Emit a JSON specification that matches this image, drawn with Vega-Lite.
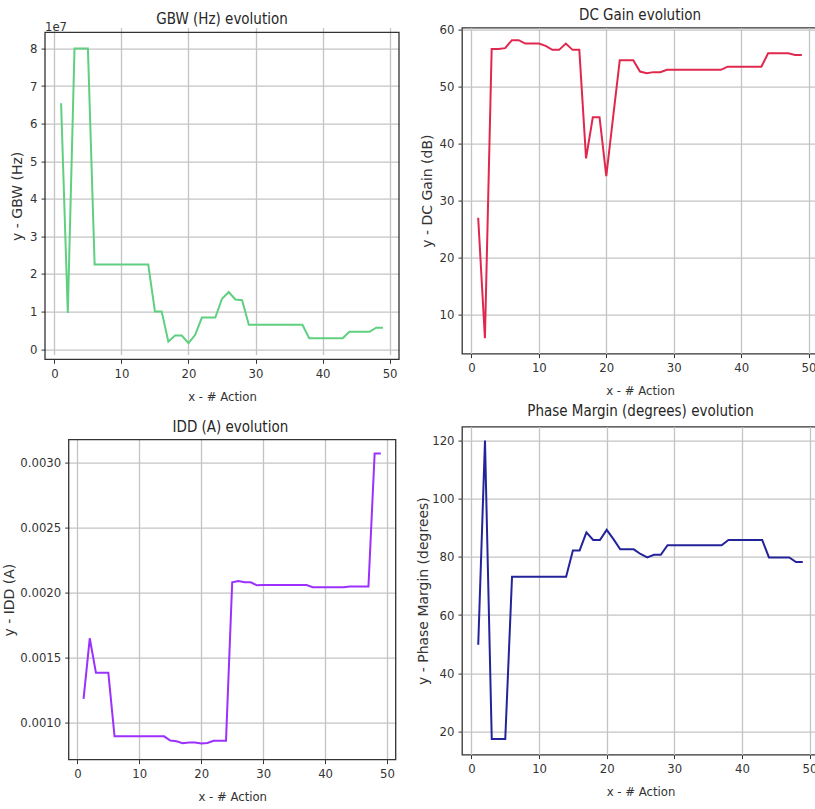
{
  "$schema": "https://vega.github.io/schema/vega-lite/v6.json",
  "background": "white",
  "padding": {"left": 2, "top": 7.6, "right": 0, "bottom": 0},
  "datasets": {
    "runs": [
      {"action": 1, "gbw": 65400000, "gain": 27.0, "idd": 0.001185, "pm": 49.75},
      {"action": 2, "gbw": 9600000, "gain": 5.9, "idd": 0.001651, "pm": 120.0},
      {"action": 3, "gbw": 80000000, "gain": 56.55, "idd": 0.001385, "pm": 17.4},
      {"action": 4, "gbw": 80000000, "gain": 56.55, "idd": 0.001385, "pm": 17.4},
      {"action": 5, "gbw": 80000000, "gain": 56.7, "idd": 0.001385, "pm": 17.4},
      {"action": 6, "gbw": 22500000, "gain": 58.1, "idd": 0.000897, "pm": 73.2},
      {"action": 7, "gbw": 22500000, "gain": 58.1, "idd": 0.000897, "pm": 73.2},
      {"action": 8, "gbw": 22500000, "gain": 57.5, "idd": 0.000897, "pm": 73.2},
      {"action": 9, "gbw": 22500000, "gain": 57.5, "idd": 0.000897, "pm": 73.2},
      {"action": 10, "gbw": 22500000, "gain": 57.5, "idd": 0.000897, "pm": 73.2},
      {"action": 11, "gbw": 22500000, "gain": 57.1, "idd": 0.000897, "pm": 73.2},
      {"action": 12, "gbw": 22500000, "gain": 56.4, "idd": 0.000897, "pm": 73.2},
      {"action": 13, "gbw": 22500000, "gain": 56.4, "idd": 0.000897, "pm": 73.2},
      {"action": 14, "gbw": 22500000, "gain": 57.5, "idd": 0.000897, "pm": 73.2},
      {"action": 15, "gbw": 10000000, "gain": 56.4, "idd": 0.000864, "pm": 82.2},
      {"action": 16, "gbw": 10000000, "gain": 56.4, "idd": 0.000859, "pm": 82.2},
      {"action": 17, "gbw": 2000000, "gain": 37.4, "idd": 0.000844, "pm": 88.4},
      {"action": 18, "gbw": 3600000, "gain": 44.6, "idd": 0.000849, "pm": 85.8},
      {"action": 19, "gbw": 3600000, "gain": 44.6, "idd": 0.000849, "pm": 85.8},
      {"action": 20, "gbw": 1600000, "gain": 34.3, "idd": 0.000841, "pm": 89.3},
      {"action": 21, "gbw": 3800000, "gain": 44.5, "idd": 0.000846, "pm": 86.1},
      {"action": 22, "gbw": 8400000, "gain": 54.6, "idd": 0.000862, "pm": 82.6},
      {"action": 23, "gbw": 8400000, "gain": 54.6, "idd": 0.000862, "pm": 82.6},
      {"action": 24, "gbw": 8400000, "gain": 54.6, "idd": 0.000862, "pm": 82.6},
      {"action": 25, "gbw": 13400000, "gain": 52.6, "idd": 0.002082, "pm": 81.0},
      {"action": 26, "gbw": 15200000, "gain": 52.3, "idd": 0.002092, "pm": 79.8},
      {"action": 27, "gbw": 13200000, "gain": 52.5, "idd": 0.002082, "pm": 80.7},
      {"action": 28, "gbw": 13000000, "gain": 52.5, "idd": 0.002082, "pm": 80.7},
      {"action": 29, "gbw": 6500000, "gain": 52.9, "idd": 0.002058, "pm": 84.0},
      {"action": 30, "gbw": 6500000, "gain": 52.9, "idd": 0.00206, "pm": 84.0},
      {"action": 31, "gbw": 6500000, "gain": 52.9, "idd": 0.00206, "pm": 84.0},
      {"action": 32, "gbw": 6500000, "gain": 52.9, "idd": 0.00206, "pm": 84.0},
      {"action": 33, "gbw": 6500000, "gain": 52.9, "idd": 0.00206, "pm": 84.0},
      {"action": 34, "gbw": 6500000, "gain": 52.9, "idd": 0.00206, "pm": 84.0},
      {"action": 35, "gbw": 6500000, "gain": 52.9, "idd": 0.00206, "pm": 84.0},
      {"action": 36, "gbw": 6500000, "gain": 52.9, "idd": 0.00206, "pm": 84.0},
      {"action": 37, "gbw": 6500000, "gain": 52.9, "idd": 0.00206, "pm": 84.0},
      {"action": 38, "gbw": 2900000, "gain": 53.45, "idd": 0.002044, "pm": 85.8},
      {"action": 39, "gbw": 2900000, "gain": 53.45, "idd": 0.002044, "pm": 85.8},
      {"action": 40, "gbw": 2900000, "gain": 53.45, "idd": 0.002044, "pm": 85.8},
      {"action": 41, "gbw": 2900000, "gain": 53.45, "idd": 0.002044, "pm": 85.8},
      {"action": 42, "gbw": 2900000, "gain": 53.45, "idd": 0.002044, "pm": 85.8},
      {"action": 43, "gbw": 2900000, "gain": 53.45, "idd": 0.002044, "pm": 85.8},
      {"action": 44, "gbw": 4600000, "gain": 55.8, "idd": 0.002049, "pm": 79.8},
      {"action": 45, "gbw": 4600000, "gain": 55.8, "idd": 0.002049, "pm": 79.8},
      {"action": 46, "gbw": 4600000, "gain": 55.8, "idd": 0.002049, "pm": 79.8},
      {"action": 47, "gbw": 4600000, "gain": 55.8, "idd": 0.002049, "pm": 79.8},
      {"action": 48, "gbw": 5700000, "gain": 55.5, "idd": 0.003072, "pm": 78.2},
      {"action": 49, "gbw": 5700000, "gain": 55.5, "idd": 0.003072, "pm": 78.2}
    ]
  },
  "config": {
    "font": "DejaVu Sans Condensed",
    "view": {"stroke": "#333333", "strokeWidth": 1.3},
    "title": {"font": "DejaVu Sans Condensed", "fontSize": 15, "fontWeight": "normal", "color": "#262626"},
    "axis": {
      "domain": false,
      "grid": true,
      "gridColor": "#c4c4c4",
      "gridWidth": 1.3,
      "tickColor": "#333333",
      "tickSize": 4,
      "labelPadding": 4,
      "labelFont": "DejaVu Sans Condensed",
      "labelFontSize": 13,
      "labelColor": "#333333",
      "titleColor": "#333333",
      "titleFontWeight": "normal"
    },
    "axisX": {"titleFont": "DejaVu Sans Condensed", "titleFontSize": 13, "titlePadding": 10, "labelFlush": false},
    "axisY": {"titleFont": "DejaVu Sans", "titleFontSize": 14, "titlePadding": 5, "labelFlush": false}
  },
  "spacing": 16,
  "hconcat": [
    {
      "align": "none",
      "spacing": 16,
      "vconcat": [
        {
          "width": 354,
          "height": 331.7,
          "view": {"stroke": null},
          "title": {"text": "GBW (Hz) evolution", "offset": -6.5},
          "layer": [
            {
              "data": {"name": "runs"},
              "mark": {"type": "line", "color": "#5fcf80", "strokeWidth": 2},
              "encoding": {
                "x": {"field": "action", "type": "quantitative", "scale": {"domain": [-1.4, 51.4], "nice": false, "zero": false}, "axis": {"values": [0, 10, 20, 30, 40, 50], "title": "x - # Action"}},
                "y": {"field": "gbw", "type": "quantitative", "scale": {"domain": [-2700000, 84300000], "range": [331.7, 4.7], "nice": false, "zero": false}, "axis": {"values": [0, 10000000, 20000000, 30000000, 40000000, 50000000, 60000000, 70000000, 80000000], "labelExpr": "format(datum.value / 10000000, 'd')", "title": "y - GBW (Hz)"}}
              }
            },
            {
              "data": {"values": [{"part": "frame"}]},
              "mark": {"type": "rect", "filled": false, "stroke": "#333333", "strokeWidth": 1.3},
              "encoding": {
                "x": {"datum": -1.4},
                "x2": {"datum": 51.4},
                "y": {"datum": 84300000},
                "y2": {"datum": -2700000}
              }
            },
            {
              "data": {"values": [{"label": "1e7"}]},
              "mark": {"type": "text", "align": "left", "baseline": "bottom", "dy": 1.5, "fontSize": 13, "color": "#333333"},
              "encoding": {
                "x": {"datum": -1.4},
                "y": {"datum": 84300000},
                "text": {"field": "label"}
              }
            }
          ]
        },
        {
          "width": 350.7,
          "height": 320,
          "view": {"stroke": null},
          "title": {"text": "IDD (A) evolution", "offset": 4, "dx": 10},
          "layer": [
            {
              "data": {"name": "runs"},
              "mark": {"type": "line", "color": "#9b30ff", "strokeWidth": 2},
              "encoding": {
                "x": {"field": "action", "type": "quantitative", "scale": {"domain": [-1.4, 51.4], "range": [23.7, 350.7], "nice": false, "zero": false}, "axis": {"values": [0, 10, 20, 30, 40, 50], "title": "x - # Action"}},
                "y": {"field": "idd", "type": "quantitative", "scale": {"domain": [0.000718, 0.003179], "nice": false, "zero": false}, "axis": {"values": [0.001, 0.0015, 0.002, 0.0025, 0.003], "format": ".4f", "title": "y - IDD (A)", "offset": -23.7, "titlePadding": 3}}
              }
            },
            {
              "data": {"values": [{"part": "frame"}]},
              "mark": {"type": "rect", "filled": false, "stroke": "#333333", "strokeWidth": 1.3},
              "encoding": {
                "x": {"datum": -1.4},
                "x2": {"datum": 51.4},
                "y": {"datum": 0.003179},
                "y2": {"datum": 0.000718}
              }
            }
          ]
        }
      ]
    },
    {
      "align": "none",
      "spacing": 4,
      "vconcat": [
        {
          "width": 356,
          "height": 326,
          "title": {"text": "DC Gain evolution", "offset": 0},
          "data": {"name": "runs"},
          "mark": {"type": "line", "color": "#e0284f", "strokeWidth": 2},
          "encoding": {
            "x": {"field": "action", "type": "quantitative", "scale": {"domain": [-1.4, 51.4], "nice": false, "zero": false}, "axis": {"values": [0, 10, 20, 30, 40, 50], "title": "x - # Action"}},
            "y": {"field": "gain", "type": "quantitative", "scale": {"domain": [3.2, 60.3], "nice": false, "zero": false}, "axis": {"values": [10, 20, 30, 40, 50, 60], "format": "d", "title": "y - DC Gain (dB)"}}
          }
        },
        {
          "width": 357,
          "height": 328,
          "title": {"text": "Phase Margin (degrees) evolution", "offset": 8},
          "data": {"name": "runs"},
          "mark": {"type": "line", "color": "#24249a", "strokeWidth": 2},
          "encoding": {
            "x": {"field": "action", "type": "quantitative", "scale": {"domain": [-1.4, 51.4], "nice": false, "zero": false}, "axis": {"values": [0, 10, 20, 30, 40, 50], "title": "x - # Action"}},
            "y": {"field": "pm", "type": "quantitative", "scale": {"domain": [12, 124.8], "nice": false, "zero": false}, "axis": {"values": [20, 40, 60, 80, 100, 120], "format": "d", "title": "y - Phase Margin (degrees)", "titlePadding": 1}}
          }
        }
      ]
    }
  ]
}
